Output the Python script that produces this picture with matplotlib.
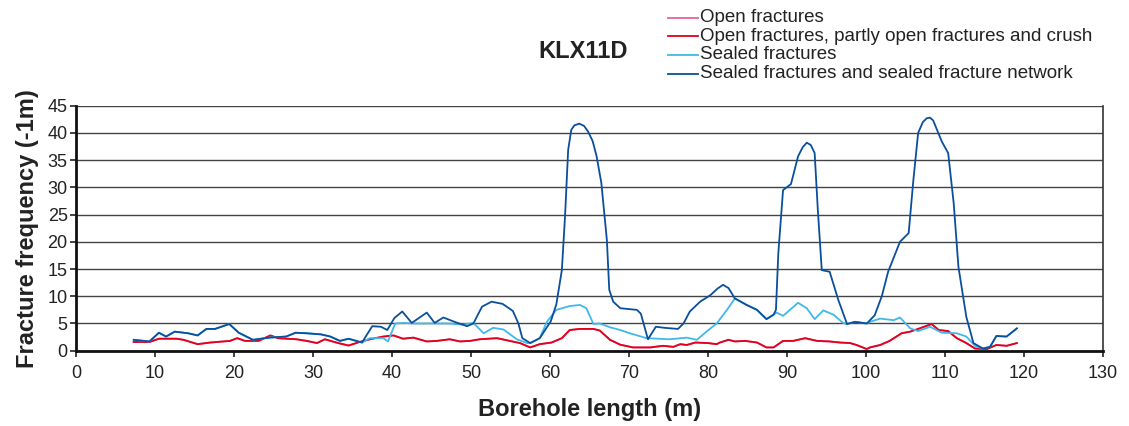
import matplotlib
matplotlib.use("Agg")
import matplotlib.pyplot as plt
from matplotlib.lines import Line2D

plt.rcParams['font.family'] = ['Liberation Sans', 'DejaVu Sans']

title = "KLX11D"
x_label = "Borehole length (m)"
y_label = "Fracture frequency (-1m)"
legend_labels = ["Open fractures",
                 "Open fractures, partly open fractures and crush",
                 "Sealed fractures",
                 "Sealed fractures and sealed fracture network"]
x_ticks = list(range(0, 131, 10))
y_ticks = list(range(0, 46, 5))

# Sealed fractures and sealed fracture network (dark blue)
net_x = [7.3, 9.3, 10.5, 11.4, 12.5, 14.2, 15.4, 16.5, 17.6, 18.4, 19.4, 20.6, 22.4, 24.4,
         26.6, 27.8, 29.2, 31.0, 32.2, 33.4, 34.5, 36.2, 37.5, 38.6, 39.4, 40.3, 41.3, 42.5,
         44.4, 45.4, 46.5, 48.1, 49.5, 50.3, 51.4, 52.6, 54.0, 55.3, 56.0, 56.5, 57.5, 58.7,
         60.1, 60.8, 61.5, 61.9, 62.3, 62.7, 63.1, 63.7, 64.3, 64.8, 65.4, 65.9, 66.5, 67.2,
         67.5, 68.0, 68.9,
         71.0, 71.5, 72.4, 73.4, 74.5, 76.2, 76.9, 77.7, 79.0, 80.3, 81.2, 81.9, 82.6, 83.4,
         84.9, 86.2, 87.4, 88.3, 88.6, 88.9, 89.5, 90.5, 91.4, 92.0, 92.5, 93.0, 93.5, 93.9,
         94.4, 95.4, 96.5, 97.6, 98.6, 100.1, 101.1, 102.0, 102.8, 104.3, 105.4, 106.0,
         106.6, 107.2, 107.7, 108.1, 108.5, 109.6, 110.4, 111.1, 111.7, 112.7, 113.6, 114.8,
         115.7, 116.5, 117.8, 119.1]
net_y = [2.0, 1.7, 3.3, 2.6, 3.5, 3.2, 2.8, 4.0, 4.0, 4.4, 4.9, 3.3, 2.0, 2.4,
         2.6, 3.3, 3.2, 3.0, 2.6, 1.8, 2.2, 1.5, 4.5, 4.4, 3.8, 6.0, 7.2, 5.1,
         7.0, 5.1, 6.1, 5.2, 4.5, 5.0, 8.1, 9.0, 8.6, 7.3, 5.0, 2.3, 1.4, 2.3,
         5.4, 8.5, 14.8, 24.6, 36.9, 40.6, 41.4, 41.7, 41.3, 40.3, 38.5, 35.7, 30.8, 20.3,
         11.2, 9.0, 7.8,
         7.5, 6.8, 2.1, 4.4, 4.2, 4.0, 5.0, 7.2, 9.0, 10.2, 11.4, 12.1, 11.5, 9.6,
         8.4, 7.5, 5.8, 6.6, 7.5, 17.9, 29.5, 30.6, 35.7, 37.4, 38.2, 37.8, 36.3, 25.9,
         14.8, 14.5, 9.3, 4.9, 5.3, 5.0, 6.5, 10.0, 14.5, 20.0, 21.6, 31.4,
         40.0, 42.0, 42.7, 42.8, 42.3, 38.4, 36.3, 27.1, 15.4, 6.2, 1.4, 0.4,
         0.7, 2.7, 2.6, 4.1]

# Sealed fractures (light blue)
sealed_x = [7.3, 9.3, 10.5, 11.4, 12.5, 14.2, 15.4, 16.5, 17.6, 18.4, 19.4, 20.6, 22.4, 24.4,
            26.6, 27.8, 29.2, 31.0, 32.2, 33.4, 34.5, 36.2, 37.2, 38.9, 39.5, 40.4, 41.4,
            43.0, 45.0, 47.0, 49.0, 50.3, 51.6, 52.8, 54.1, 55.8, 57.1, 57.5, 58.7, 59.6,
            60.8, 62.5, 63.8, 64.6, 65.5, 66.3, 67.6, 68.9, 70.1, 71.3, 72.2, 75.2, 77.3,
            78.6, 79.8, 81.1, 82.4, 83.4, 84.9, 86.2, 87.4, 88.7, 89.5, 91.4, 92.5, 93.5,
            94.6, 95.9, 97.1, 97.6, 98.6, 100.1, 100.5, 101.8, 103.5, 104.3, 105.6, 106.6,
            108.1, 109.6, 111.5, 112.7, 113.8, 114.8, 115.7, 116.5, 117.8, 119.1]
sealed_y = [2.0, 1.7, 3.3, 2.6, 3.5, 3.2, 2.8, 4.0, 4.0, 4.4, 4.9, 3.3, 2.0, 2.4,
            2.6, 3.3, 3.2, 3.0, 2.6, 1.8, 2.2, 1.5, 2.3, 2.3, 1.7, 5.0, 5.1,
            5.0, 5.0, 5.0, 4.8, 5.1, 3.2, 4.2, 3.9, 2.1, 1.4, 1.4, 2.3, 5.3,
            7.5, 8.2, 8.4, 7.8, 4.9, 5.0, 4.3, 3.8, 3.2, 2.7, 2.3, 2.1, 2.4,
            2.0, 3.5, 5.0, 7.5, 9.6, 8.4, 7.5, 5.8, 7.0, 6.4, 8.8, 7.8, 5.8,
            7.4, 6.6, 5.1, 4.9, 5.3, 5.0, 5.3, 5.9, 5.6, 6.1, 4.1, 3.6,
            4.4, 3.3, 3.2, 2.6, 0.9, 0.4, 0.7, 2.7, 2.6, 4.1]

# Open fractures, partly open fractures and crush (red)
crush_x = [7.3, 9.3, 10.5, 12.7, 13.6, 15.4, 17.0, 19.5, 20.4, 21.4, 23.1, 24.6, 25.6, 27.9,
           29.2, 30.5, 31.5, 33.2, 34.5, 35.9, 37.2, 38.9, 40.2, 41.4, 42.7, 44.4, 45.7,
           47.3, 48.6, 49.9, 51.1, 53.3, 54.9, 56.2, 57.5, 58.7, 60.2, 61.5, 62.5, 63.8,
           65.5, 66.3, 67.6, 68.9, 70.5, 72.7, 74.3, 75.6, 76.5, 77.3, 78.4, 80.0, 81.1,
           81.5, 82.6, 83.4, 84.7, 86.2, 87.4, 88.3, 89.5, 90.8, 92.3, 93.8, 95.4, 96.7,
           98.0, 98.8, 100.1, 100.5, 101.8, 103.0, 104.5, 105.6, 106.8, 108.3, 109.2,
           110.4, 111.5, 112.7, 113.8, 115.3, 116.5, 117.8, 119.1]
crush_y = [1.6, 1.6, 2.2, 2.2, 2.0, 1.2, 1.5, 1.8, 2.3, 1.8, 1.8, 2.8, 2.3, 2.1,
           1.8, 1.4, 2.1, 1.4, 0.95, 1.6, 2.1, 2.6, 2.8, 2.2, 2.4, 1.7, 1.8,
           2.1, 1.7, 1.8, 2.1, 2.3, 1.8, 1.4, 0.6, 1.2, 1.5, 2.3, 3.8, 4.0,
           4.0, 3.7, 2.0, 1.1, 0.6, 0.6, 0.9, 0.7, 1.2, 1.05, 1.5, 1.4, 1.2,
           1.5, 2.0, 1.7, 1.8, 1.5, 0.6, 0.6, 1.8, 1.8, 2.3, 1.8, 1.7, 1.5,
           1.4, 1.05, 0.3, 0.6, 1.05, 1.8, 3.2, 3.5, 4.1, 4.9, 3.8,
           3.6, 2.3, 1.4, 0.4, 0.3, 1.05, 0.9, 1.4]

# Open fractures (pink) - lies under the red curve
open_x = list(crush_x)
open_y = list(crush_y)

colors = ["#e4629c", "#e2001a", "#40b8ea", "#0a4f9e"]

W, H = 1129, 426
fig = plt.figure(figsize=(W / 100, H / 100), dpi=100)
ax = fig.add_axes([76 / W, 1 - 350.7 / H, (1103 - 76) / W, (350.7 - 105.7) / H])

lw = 1.3
ax.plot(open_x, open_y, color=colors[0], lw=lw, zorder=3, solid_joinstyle='round')
ax.plot(crush_x, crush_y, color=colors[1], lw=lw, zorder=4, solid_joinstyle='round')
ax.plot(sealed_x, sealed_y, color=colors[2], lw=lw, zorder=5, solid_joinstyle='round')
ax.plot(net_x, net_y, color=colors[3], lw=lw, zorder=6, solid_joinstyle='round')

ax.set_xlim(0, 130)
ax.set_ylim(0, 45)
ax.set_xticks(x_ticks)
ax.set_yticks(y_ticks)
ax.tick_params(axis='both', labelsize=13, length=4, width=1.2, color='#222222',
               labelcolor='#222222')
ax.tick_params(axis='x', pad=6)
ax.tick_params(axis='y', pad=2)
ax.yaxis.grid(True, color='#444444', lw=1.0)
ax.set_axisbelow(True)
for s in ['left', 'bottom']:
    ax.spines[s].set_linewidth(2.0)
    ax.spines[s].set_color('#111111')
ax.spines['right'].set_linewidth(1.2)
ax.spines['right'].set_color('#333333')
ax.spines['top'].set_visible(False)

ax.set_xlabel(x_label, fontsize=17, fontweight='bold', color='#222222', labelpad=12)
ax.set_ylabel(y_label, fontsize=17, fontweight='bold', color='#222222', labelpad=6)

fig.text(583 / W, 1 - 52 / H, title, fontsize=17, fontweight='bold', color='#222222',
         ha='center', va='center')

for i, (lab, c) in enumerate(zip(legend_labels, colors)):
    yy = 1 - (17.5 + i * 18.7) / H
    fig.add_artist(Line2D([668 / W, 698 / W], [yy, yy], color=c, lw=1.3,
                          transform=fig.transFigure))
    fig.text(700 / W, yy, lab, fontsize=13.5, color='#222222', ha='left', va='center')

fig.savefig("out.png", dpi=100)
